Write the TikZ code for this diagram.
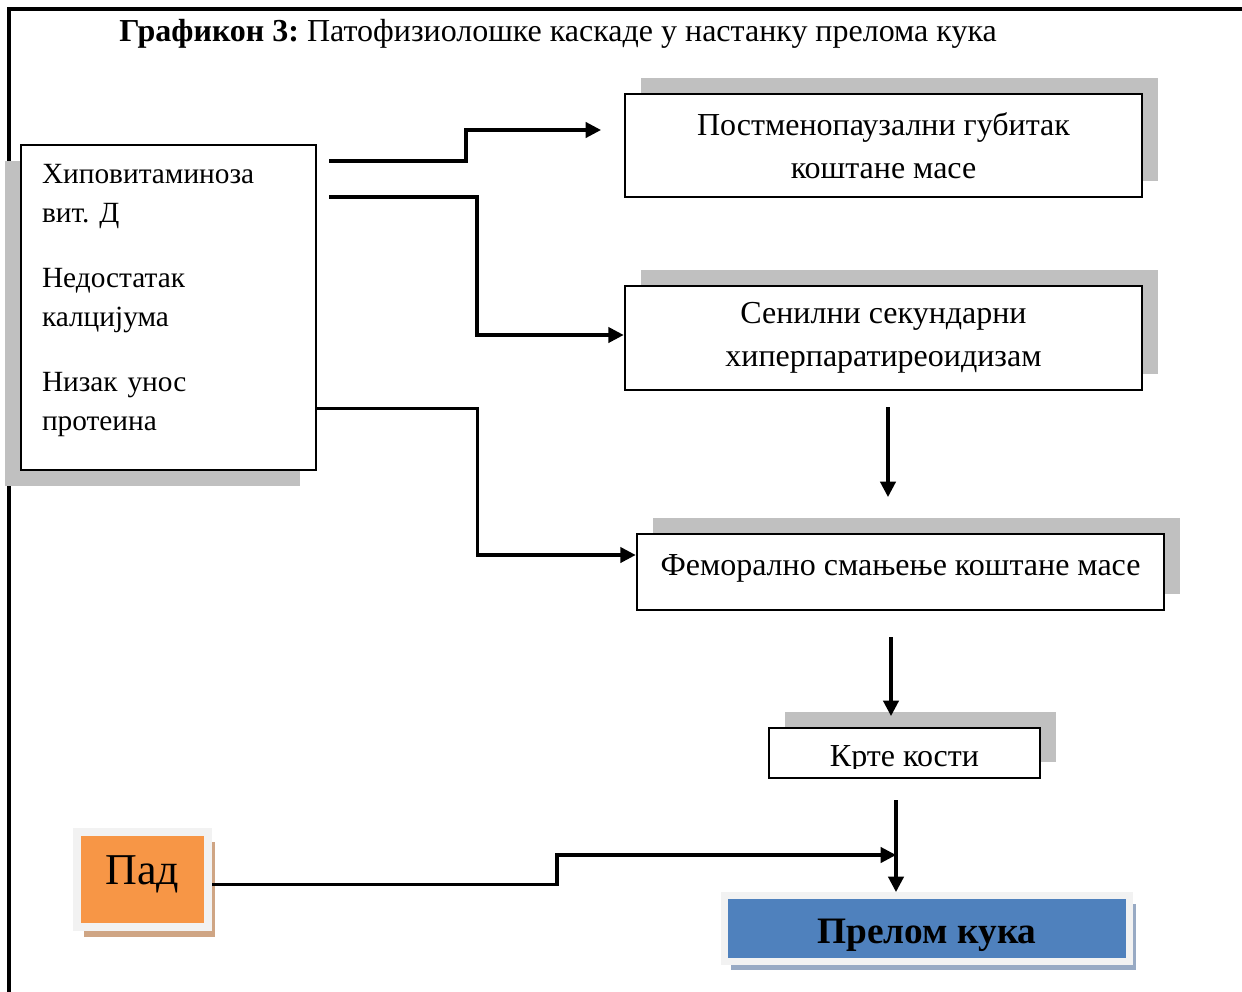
\documentclass[tikz,border=0pt]{standalone}
\usepackage{fontspec}
\setmainfont{Liberation Serif}
\usetikzlibrary{arrows.meta,shadows}
\frenchspacing

\definecolor{shadowgray}{RGB}{192,192,192}
\definecolor{padorange}{RGB}{247,150,70}
\definecolor{padshadow}{RGB}{207,165,132}
\definecolor{fractureblue}{RGB}{79,129,189}
\definecolor{blueshadow}{RGB}{152,170,196}
\definecolor{paleframe}{RGB}{242,242,242}

\tikzset{
  stepbox/.style={draw, line width=2pt, fill=white, inner sep=0pt, align=center,
    font=\fontsize{24}{32.25}\selectfont},
  rshadow/.style={drop shadow={shadow xshift=12pt, shadow yshift=12pt, fill=shadowgray, draw=none, opacity=1}},
  lshadow/.style={drop shadow={shadow xshift=-12pt, shadow yshift=-12pt, fill=shadowgray, draw=none, opacity=1}},
  arr/.style={line width=2.3pt, -{Triangle[length=11.5pt,width=11.5pt]}},
}

\begin{document}
\begin{tikzpicture}[x=0.75pt,y=-0.75pt]
\useasboundingbox (0,0) rectangle (1242,992);

%Shape: Frame
\draw [line width=2.3pt] (1242,9) -- (9,9) -- (9,992) ;

% Text Node
\node [anchor=base west, inner sep=0pt, font=\fontsize{24}{28}\selectfont] (title) at (119,41)
  {\textbf{Графикон 3:} Патофизиолошке каскаде у настанку прелома кука};

%Shape: Rectangle
\node [stepbox, lshadow, minimum width=221.25pt, minimum height=243.75pt, inner xsep=15.75pt,
  text width=189.75pt, align=left, text depth=201pt, font=\fontsize{22}{29.25}\selectfont] (risk) at (168.5,307.5)
  {Хиповитаминоза\\ вит. Д\\[19.5pt] Недостатак\\ калцијума\\[19.5pt] Низак унос\\ протеина};
%Shape: Rectangle
\node [stepbox, rshadow, minimum width=387.75pt, minimum height=77.25pt] (postmen) at (883.5,145.5)
  {Постменопаузални губитак\\ коштане масе};
%Shape: Rectangle
\node [stepbox, rshadow, minimum width=387.75pt, minimum height=78pt] (senile) at (883.5,338)
  {Сенилни секундарни\\ хиперпаратиреоидизам};
%Shape: Rectangle
\node [stepbox, rshadow, minimum width=395.25pt, minimum height=57pt, text depth=10pt] (femoral) at (900.5,572)
  {Феморално смањење коштане масе};
%Shape: Rectangle
\begin{scope}
\clip (700,700) rectangle (1100,768) (700,775) rectangle (1100,790)
  (700,768) rectangle (772,775) (1037,768) rectangle (1100,775);
\node [stepbox, rshadow, minimum width=203.25pt, minimum height=37.5pt, text height=25pt] (brittle) at (904.5,753)
  {Крте кости};
\end{scope}
%Shape: Rectangle
\node [draw=paleframe, line width=6pt, fill=padorange, inner sep=0pt, minimum width=98.25pt, minimum height=71.25pt,
  drop shadow={shadow xshift=5pt, shadow yshift=-7.5pt, fill=padshadow, draw=none, opacity=1},
  text depth=14pt, font=\fontsize{33}{38}\selectfont] (fall) at (142.5,879.5) {Пад};
%Shape: Rectangle
\node [draw=paleframe, line width=5.25pt, fill=fractureblue, inner sep=0pt, minimum width=303.75pt, minimum height=49.5pt,
  drop shadow={shadow xshift=4.5pt, shadow yshift=-6pt, fill=blueshadow, draw=none, opacity=1},
  text height=28pt, font=\fontsize{28}{32}\selectfont\bfseries] (fracture) at (927,928.5) {Прелом кука};

%Straight Lines
\coordinate (a1s) at (329,161);
\coordinate (a1e) at (601,130);
\draw [arr] (a1s) -- ++(137,0) |- (a1e) ;
%Straight Lines
\coordinate (a2s) at (329,197);
\draw [arr] (a2s) -- ++(148,0) |- ([yshift=2.25pt]senile.west) ;
%Straight Lines
\draw [arr] ([yshift=-75.4pt]risk.east) -- ++(160,0) |- ([yshift=12.75pt]femoral.west) ;
%Straight Lines
\coordinate (a4s) at (888,407);
\coordinate (a4e) at (888,497);
\draw [arr] (a4s) -- (a4e) ;
%Straight Lines
\coordinate (a5s) at (891,637);
\coordinate (a5e) at (891,716);
\draw [arr] (a5s) -- (a5e) ;
%Straight Lines
\coordinate (a6s) at (896,800);
\draw [arr] (a6s) -- (a6s |- fracture.north) ;
%Straight Lines
\coordinate (merge) at (896,855);
\draw [arr] ([yshift=-3.5pt]fall.east) -- ++(345,0) |- (merge) ;

\end{tikzpicture}
\end{document}
